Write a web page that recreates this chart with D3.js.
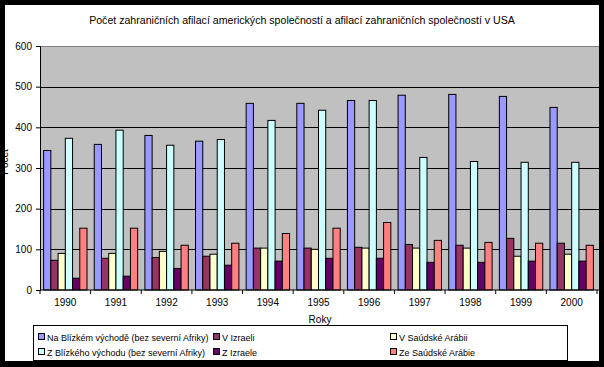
<!DOCTYPE html>
<html lang="cs">
  <head>
    <meta charset="UTF-8" />
    <title>Počet zahraničních afilací</title>
    <script src="https://cdn.jsdelivr.net/npm/d3@7"></script>
    <style>
      body { margin: 0; background: #000; }
      svg { display: block; font-family: "Liberation Sans", Arial, sans-serif; }
    </style>
  </head>
  <body>
    <svg id="chart" width="604" height="367"></svg>
    <script>
      const years = ["1990", "1991", "1992", "1993", "1994", "1995", "1996", "1997", "1998", "1999", "2000"];
      const seriesNames = [
        "Na Blízkém východě (bez severní Afriky)",
        "V Izraeli",
        "V Saúdské Arábii",
        "Z Blízkého východu (bez severní Afriky)",
        "Z Izraele",
        "Ze Saúdské Arábie"
      ];
      const seriesColors = ["#9999FF", "#993366", "#FFFFCC", "#CCFFFF", "#660066", "#FF8080"];
      const naBlizkem = [343, 358, 380, 366, 459, 459, 466, 479, 481, 476, 449];
      const vIzraeli = [73, 78, 80, 83, 103, 103, 105, 112, 110, 127, 115];
      const vSaudske = [90, 90, 95, 88, 103, 100, 103, 103, 103, 83, 88];
      const zBlizkeho = [373, 393, 356, 370, 417, 442, 466, 326, 316, 314, 314];
      const zIzraele = [29, 34, 53, 61, 71, 78, 78, 68, 68, 71, 71];
      const zeSaudske = [152, 152, 110, 115, 139, 152, 166, 122, 117, 115, 110];
      const yTicks = [0, 100, 200, 300, 400, 500, 600];

      const series = [naBlizkem, vIzraeli, vSaudske, zBlizkeho, zIzraele, zeSaudske];

      const svg = d3.select("#chart");
      const margin = { left: 40, top: 46, right: 597, bottom: 290 };

      const clip = svg.append("defs").append("clipPath").attr("id", "page");
      clip.append("rect").attr("x", 5).attr("y", 5).attr("width", 594).attr("height", 356);

      const g = svg.append("g").attr("clip-path", "url(#page)");
      g.append("rect").attr("x", 5).attr("y", 5).attr("width", 594).attr("height", 356).attr("fill", "#fff");

      const x = d3.scaleBand().domain(years).range([margin.left, margin.right]);
      const xs = d3.scaleBand().domain(d3.range(series.length)).range([0, x.bandwidth()]).paddingOuter(0.5);
      const y = d3.scaleLinear().domain([0, 600]).range([margin.bottom, margin.top]);

      // plot area
      g.append("rect")
        .attr("x", margin.left)
        .attr("y", margin.top)
        .attr("width", 600 - margin.left)
        .attr("height", margin.bottom - margin.top)
        .attr("fill", "#C0C0C0");
      g.append("line")
        .attr("x1", margin.left).attr("x2", 600)
        .attr("y1", margin.top + 0.5).attr("y2", margin.top + 0.5)
        .attr("stroke", "#808080");

      g.selectAll(".grid")
        .data(yTicks.filter(d => d > 0 && d < 600))
        .enter()
        .append("line")
        .attr("x1", margin.left).attr("x2", 600)
        .attr("y1", d => Math.round(y(d)) + 0.5)
        .attr("y2", d => Math.round(y(d)) + 0.5)
        .attr("stroke", "#000");

      // bars
      series.forEach((vals, si) => {
        g.selectAll(".s" + si)
          .data(vals)
          .enter()
          .append("rect")
          .attr("x", (d, i) => x(years[i]) + xs(si))
          .attr("y", d => y(d))
          .attr("width", xs.bandwidth())
          .attr("height", d => y(0) - y(d))
          .attr("fill", seriesColors[si])
          .attr("stroke", "#000")
          .attr("stroke-width", 1);
      });

      // axes
      const yAxis = g.append("g")
        .attr("transform", `translate(${margin.left},0)`)
        .call(d3.axisLeft(y).tickValues(yTicks).tickSize(4).tickPadding(4));
      yAxis.selectAll("text").attr("font-size", 10).attr("fill", "#000").attr("font-family", "Liberation Sans, Arial");
      yAxis.selectAll("line,path").attr("stroke", "#000");

      const xAxis = g.append("g").attr("transform", `translate(0,${margin.bottom})`);
      xAxis.append("line")
        .attr("x1", margin.left).attr("x2", 600)
        .attr("stroke", "#000");
      xAxis.selectAll(".tk")
        .data(years.concat(["end"]))
        .enter()
        .append("line")
        .attr("x1", (d, i) => margin.left + i * x.step())
        .attr("x2", (d, i) => margin.left + i * x.step())
        .attr("y1", 0).attr("y2", 4)
        .attr("stroke", "#000");
      xAxis.selectAll(".lbl")
        .data(years)
        .enter()
        .append("text")
        .attr("x", d => x(d) + x.bandwidth() / 2)
        .attr("y", 16)
        .attr("text-anchor", "middle")
        .attr("font-size", 10)
        .text(d => d);

      g.append("text")
        .attr("x", 320).attr("y", 323)
        .attr("text-anchor", "middle")
        .attr("font-size", 10)
        .text("Roky");

      // y title, mostly hidden under the black frame like in the original
      g.append("text")
        .attr("transform", "translate(7.5,162) rotate(-90)")
        .attr("text-anchor", "middle")
        .attr("font-size", 10)
        .text("Počet");

      g.append("text")
        .attr("x", 302).attr("y", 24)
        .attr("text-anchor", "middle")
        .attr("font-size", 10.6)
        .text("Počet zahraničních afilací amerických společností a afilací zahraničních společností v USA");

      // legend
      const legend = g.append("g");
      legend.append("rect")
        .attr("x", 33.5).attr("y", 325.5)
        .attr("width", 534).attr("height", 35)
        .attr("fill", "#fff").attr("stroke", "#000");
      const colX = [38, 213, 390];
      const rowY = [337, 352];
      const items = legend.selectAll(".item")
        .data(seriesNames)
        .enter()
        .append("g")
        .attr("transform", (d, i) => `translate(${colX[i % 3]},${rowY[Math.floor(i / 3)]})`);
      items.append("rect")
        .attr("x", 0.5).attr("y", -3.5)
        .attr("width", 6).attr("height", 6)
        .attr("fill", (d, i) => seriesColors[i])
        .attr("stroke", "#000");
      items.append("text")
        .attr("x", 9).attr("y", 3.5)
        .attr("font-size", 9)
        .text(d => d);
    </script>
  </body>
</html>
